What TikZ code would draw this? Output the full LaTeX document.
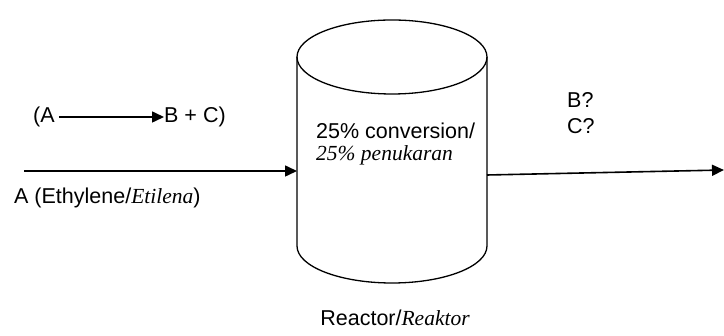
\documentclass[tikz,border=0pt]{standalone}
\usepackage{fontspec}
\setmainfont{Liberation Sans}
\newfontfamily\serifit{Liberation Serif}
\usetikzlibrary{arrows.meta}
\newcommand{\itx}[1]{{\serifit\itshape #1}}
\begin{document}
\begin{tikzpicture}[x=1pt,y=-1pt,
  lbl/.style={inner sep=0pt,font=\fontsize{21.5}{25}\selectfont},
  flow/.style={line width=1.6pt,-{Triangle[length=12pt,width=11pt]}},
  vessel/.style={line width=1.3pt}]
\useasboundingbox (0,0) rectangle (724,336);
% reactor cylinder
\coordinate (tl) at (297,57);
\coordinate (tr) at (487,57);
\coordinate (bl) at (297,246);
\coordinate (br) at (487,246);
\draw[vessel] (392,57) ellipse [x radius=95, y radius=37];
\draw[vessel] (tl) -- (bl) arc[start angle=180,end angle=0,x radius=95,y radius=37] -- (tr);
% input stream
\coordinate (in) at (24,171);
\coordinate (inR) at (297,171);
\draw[flow] (in) -- (inR);
\node[lbl,anchor=west] (inlbl) at (14,198) {A (Ethylene/\itx{Etilena})};
% reaction
\node[lbl,anchor=west] (rA) at (33,117) {(A};
\node[lbl,anchor=west] (rB) at (164,117) {B + C)};
\draw[flow] (rA.east) ++(4,0) coordinate (ra1) -- (rB.west);
% inside text
\node[lbl,anchor=west] (conv) at (316,131) {25\% conversion/};
\node[lbl,anchor=west] (conv2) at (316,155) {\itx{25\% penukaran}};
% output
\coordinate (out) at (487,175);
\coordinate (outR) at (724,170);
\draw[flow] (out) -- (outR);
\node[lbl,anchor=west] (B) at (567,100) {B?};
\node[lbl,anchor=west] (C) at (567,126) {C?};
% label
\node[lbl] (reac) at (395,318) {Reactor/\itx{Reaktor}};
\end{tikzpicture}
\end{document}
